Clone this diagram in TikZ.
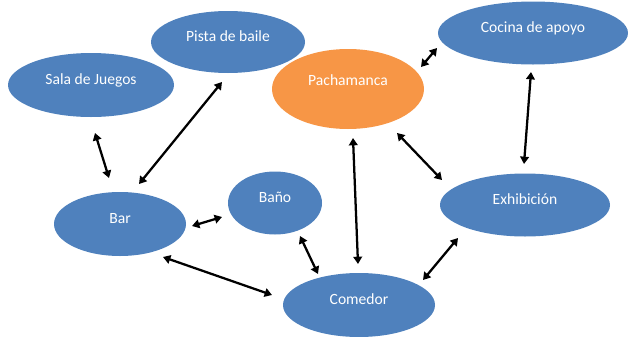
\documentclass[tikz,border=0pt]{standalone}
\usepackage{fontspec}
\setmainfont{Carlito}
\usetikzlibrary{shapes.geometric,arrows.meta,calc}
\definecolor{bubble}{HTML}{4F81BD}
\definecolor{hot}{HTML}{F79646}
\tikzset{
  place/.style={ellipse, fill=bubble, draw=none, inner sep=0pt, text=white,
    font=\fontsize{11.7}{13}\selectfont, text height=9pt, text depth=9.5pt},
  link/.style={line width=1.7pt, {Triangle[length=5.5pt,width=6.5pt]}-{Triangle[length=5.5pt,width=6.5pt]}},
}
\begin{document}
\begin{tikzpicture}[x=0.75pt,y=-0.75pt]
\useasboundingbox (0,0) rectangle (628,336);
\node[place, minimum width=166*0.75pt, minimum height=64*0.75pt] (sala) at (91,85) {Sala de Juegos};
\node[place, minimum width=154*0.75pt, minimum height=62*0.75pt] (pista) at (228,42) {Pista de baile};
\node[place, fill=hot, minimum width=152*0.75pt, minimum height=80*0.75pt, text height=10pt, text depth=15pt] (pach) at (348,89) {Pachamanca};
\node[place, minimum width=190*0.75pt, minimum height=63*0.75pt] (cocina) at (533,33) {Cocina de apoyo};
\node[place, minimum width=132*0.75pt, minimum height=64*0.75pt] (bar) at (120,224) {Bar};
\node[place, minimum width=94*0.75pt, minimum height=63*0.75pt] (bano) at (275,203) {Baño};
\node[place, minimum width=170*0.75pt, minimum height=63*0.75pt] (exhib) at (525,205) {Exhibición};
\node[place, minimum width=152*0.75pt, minimum height=64*0.75pt] (comedor) at (359,305) {Comedor};
\draw[link] ($(sala)+(4,48)$) -- ($(bar)+(-11,-46)$);
\draw[link] ($(bar)+(19,-40)$) -- ($(pista)+(-6,40)$);
\draw[link] ($(pach)+(73,-22)$) -- ($(cocina)+(-96,15)$);
\draw[link] ($(cocina)+(-2,39)$) -- ($(exhib)+(-1,-41)$);
\draw[link] ($(pach)+(49,44)$) -- ($(exhib)+(-83,-25)$);
\draw[link] ($(pach)+(5,49)$) -- ($(comedor)+(-1,-41)$);
\draw[link] ($(bar)+(72,2)$) -- ($(bano)+(-53,14)$);
\draw[link] ($(bar)+(43,33)$) -- ($(comedor)+(-87,-10)$);
\draw[link] ($(bano)+(25,33)$) -- ($(comedor)+(-41,-31)$);
\draw[link] ($(exhib)+(-67,33)$) -- ($(comedor)+(64,-25)$);
\end{tikzpicture}
\end{document}
